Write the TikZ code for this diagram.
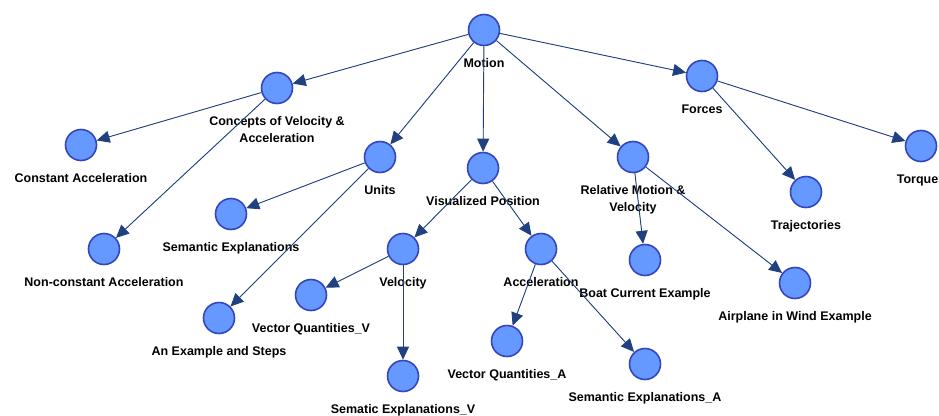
\documentclass[tikz,border=0pt]{standalone}
\usepackage{fontspec}
\setmainfont{Liberation Sans}
\usetikzlibrary{arrows.meta}
\definecolor{topicfill}{RGB}{102,153,255}
\definecolor{topicedge}{RGB}{52,70,190}
\definecolor{linkblue}{RGB}{32,64,128}

\begin{document}
\begin{tikzpicture}[x=1pt, y=-1pt,
      topic/.style={circle, draw=topicedge, fill=topicfill, line width=1.6pt, minimum size=31pt, inner sep=0pt},
      lbl/.style={font=\bfseries\fontsize{12.5}{17}\selectfont, align=center, inner sep=0pt, label distance=12pt},
      arrow/.style={-{Triangle[length=13pt, width=12pt]}, draw=linkblue, fill=linkblue, line width=0.9pt}
    ]
    \clip (0,0) rectangle (939,415);
    \useasboundingbox (0,0) rectangle (939,415);

    % topics
    \node[topic, label={[lbl]below:Motion}] (motion) at (484,30) {};
    \node[topic, label={[lbl]below:Concepts of Velocity \&\\Acceleration}] (concepts) at (277,88) {};
    \node[topic, label={[lbl]below:Constant Acceleration}] (constacc) at (81,145) {};
    \node[topic, label={[lbl]below:Non-constant Acceleration}] (nonconst) at (104,249) {};
    \node[topic, label={[lbl]below:Units}] (units) at (380,157) {};
    \node[topic, label={[lbl]below:Semantic Explanations}] (semexp) at (231,214) {};
    \node[topic, label={[lbl]below:An Example and Steps}] (example) at (219,318) {};
    \node[topic, label={[lbl]below:Visualized Position}] (vispos) at (483,168) {};
    \node[topic, label={[lbl]below:Velocity}] (velocity) at (403,249) {};
    \node[topic, label={[lbl]below:Vector Quantities\_V}] (vecv) at (311,295) {};
    \node[topic, label={[lbl]below:Sematic Explanations\_V}] (semv) at (403,376) {};
    \node[topic, label={[lbl]below:Acceleration}] (accel) at (541,249) {};
    \node[topic, label={[lbl]below:Vector Quantities\_A}] (veca) at (507,341) {};
    \node[topic, label={[lbl]below:Semantic Explanations\_A}] (sema) at (645,364) {};
    \node[topic, label={[lbl]below:Relative Motion \&\\Velocity}] (relmotion) at (633,157) {};
    \node[topic, label={[lbl]below:Boat Current Example}] (boat) at (645,260) {};
    \node[topic, label={[lbl]below:Airplane in Wind Example}] (airplane) at (795,283) {};
    \node[topic, label={[lbl]below:Forces}] (forces) at (702,76) {};
    \node[topic, label={[lbl]below:Trajectories}] (traj) at (806,192) {};
    \node[topic, label={[lbl]below:Torques}] (torques) at (921,146) {};

    % links
    \draw[arrow] (motion) -- (concepts);
    \draw[arrow] (motion) -- (units);
    \draw[arrow] (motion) -- (vispos);
    \draw[arrow] (motion) -- (relmotion);
    \draw[arrow] (motion) -- (forces);
    \draw[arrow] (concepts) -- (constacc);
    \draw[arrow] (concepts) -- (nonconst);
    \draw[arrow] (units) -- (semexp);
    \draw[arrow] (units) -- (example);
    \draw[arrow] (vispos) -- (velocity);
    \draw[arrow] (vispos) -- (accel);
    \draw[arrow] (velocity) -- (vecv);
    \draw[arrow] (velocity) -- (semv);
    \draw[arrow] (accel) -- (veca);
    \draw[arrow] (accel) -- (sema);
    \draw[arrow] (relmotion) -- (boat);
    \draw[arrow] (relmotion) -- (airplane);
    \draw[arrow] (forces) -- (traj);
    \draw[arrow] (forces) -- (torques);
  \end{tikzpicture}
\end{document}
